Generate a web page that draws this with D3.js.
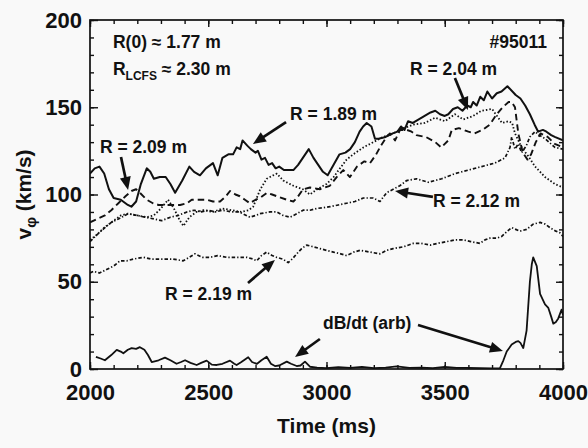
<!DOCTYPE html>
<html><head><meta charset="utf-8">
<script src="https://cdn.jsdelivr.net/npm/d3@7"></script>
<style>
html,body{margin:0;padding:0;background:#f9f9f9;}
svg{display:block;font-family:"Liberation Sans",Arial,Helvetica,sans-serif;font-weight:bold;}
</style></head>
<body><svg id="c" width="588" height="448"></svg>
<script>
// ---- data (time in ms, v_phi in km/s) ----
const xTicks = [2000, 2500, 3000, 3500, 4000];
const yTicks = [0, 50, 100, 150, 200];

const t189 = [2000,2020,2040,2060,2080,2100,2130,2160,2175,2195,2215,2240,2255,2270,2295,2320,2340,2360,2390,2420,2440,2465,2490,2520,2540,2560,2585,2605,2620,2635,2645,2665,2680,2700,2710,2725,2740,2755,2770,2785,2800,2820,2860,2880,2900,2925,2945,2960,2985,3005,3030,3055,3080,3100,3120,3140,3155,3170,3190,3205,3220,3250,3280,3300,3315,3330,3345,3365,3390,3415,3440,3460,3480,3500,3515,3535,3555,3575,3595,3610,3620,3635,3650,3665,3680,3700,3720,3740,3765,3800,3820,3840,3860,3880,3895,3915,3930,3950,3965,4000];
const v189 = [112,115,116,112,103,98,97,94,93,96,106,115,113,109,110,110,106,101,108,116,113,111,115,118,111,121,123,123,127,126,131,128,126,124,125,120,121,117,118,115,116,114,114,117,121,126,121,118,113,111,117,123,124,126,130,136,139,141,139,132,132,133,135,136,139,137,142,141,143,145,147,148,146,145,146,149,150,148,151,150,153,151,156,154,159,155,158,159,162,157,155,151,146,140,136,137,136,134,133,131];

const t204 = [2000,2030,2060,2100,2130,2160,2200,2240,2270,2300,2330,2355,2380,2395,2420,2450,2480,2520,2560,2600,2640,2670,2690,2720,2747,2775,2790,2817,2860,2900,2930,2960,3000,3030,3057,3085,3113,3156,3198,3240,3282,3325,3367,3416,3459,3501,3543,3578,3620,3655,3700,3721,3742,3770,3785,3797,3825,3853,3882,3924,3966,4000];
const v204 = [74,77,81,85,88,89,88,87,88,92,97,92,85,82,87,90,91,90,92,91,90,91,93,103,109,111,112,108,105,103,100,103,106,110,115,120,123,127,130,133,135,138,140,141,144,142,146,143,145,148,149,145,141,142,141,135,127,122,116,110,106,104];

const t209 = [2000,2030,2063,2090,2120,2150,2175,2195,2211,2240,2266,2290,2309,2351,2381,2410,2430,2452,2494,2520,2550,2575,2592,2615,2634,2655,2676,2700,2719,2748,2770,2790,2832,2860,2875,2901,2930,2972,3014,3043,3071,3099,3129,3160,3184,3210,3230,3254,3268,3290,3311,3340,3360,3380,3420,3460,3485,3515,3530,3560,3600,3625,3660,3690,3720,3745,3770,3783,3797,3811,3830,3850,3865,3885,3905,3935,3965,4000];
const v209 = [84,86,88,91,95,99,102,103,101,97,95,94,94,94,94,95,97,97,97,96,96,99,102,100,99,97,95,97,98,101,100,99,97,96,98,103,104,103,105,110,114,110,116,119,118,123,128,133,135,131,137,137,136,134,133,130,127,131,137,138,136,135,137,140,146,150,153,153,150,135,124,120,123,130,135,133,129,127];

const t212 = [2000,2030,2063,2090,2120,2162,2200,2232,2270,2303,2340,2373,2410,2440,2470,2500,2530,2560,2600,2630,2676,2700,2719,2761,2790,2817,2846,2875,2901,2930,2959,3015,3050,3085,3120,3156,3198,3226,3254,3282,3310,3339,3381,3430,3487,3543,3600,3656,3712,3755,3776,3783,3797,3811,3825,3845,3860,3882,3900,3924,3966,4000];
const v212 = [73,77,81,84,86,89,88,87,86,85,87,88,90,91,90,91,90,91,90,90,87,88,89,90,90,88,87,89,91,91,92,93,94,95,96,98,98,96,101,103,105,108,109,107,109,112,114,116,118,121,127,133,126,129,124,128,133,136,134,132,127,126];

const t219 = [2000,2014,2040,2070,2100,2127,2155,2183,2225,2260,2296,2352,2394,2420,2444,2475,2507,2540,2578,2620,2663,2690,2705,2725,2747,2770,2789,2815,2838,2855,2874,2895,2916,2945,2972,3000,3029,3060,3085,3115,3142,3185,3226,3255,3282,3325,3367,3400,3438,3470,3508,3545,3578,3610,3649,3670,3691,3720,3741,3765,3783,3800,3818,3846,3874,3903,3925,3945,3970,3987,4000];
const v219 = [55,56,55,57,59,62,62,63,64,63,63,63,62,64,66,64,64,65,64,64,64,63,62,65,67,65,64,63,61,63,66,69,71,70,69,68,67,66,65,67,68,67,66,68,69,70,72,72,71,72,73,74,74,73,72,74,75,75,76,79,81,80,79,80,83,84,83,81,79,78,76];

const tDB = [2025,2045,2063,2090,2113,2130,2141,2160,2176,2195,2211,2230,2245,2261,2290,2317,2340,2366,2385,2402,2425,2451,2470,2493,2515,2536,2560,2592,2610,2620,2640,2669,2685,2705,2725,2747,2765,2782,2800,2832,2850,2874,2890,2909,2930,2960,3000,3050,3100,3150,3200,3250,3297,3350,3400,3450,3500,3550,3600,3650,3700,3733,3748,3762,3783,3800,3811,3820,3832,3846,3860,3868,3874,3880,3889,3903,3924,3938,3950,3959,3970,3980,3994,4000];
const vDB = [7,6,5,8,11,10,9,11,12,11.5,12.5,11,8,4,5,6.5,5,3,4,5,3.5,2.3,3.5,4.8,2.5,2.3,3,4.8,3,2.3,4,6.7,4,2.9,5,7,3,1.7,2,4.2,3,1.7,2,4.2,1.3,0.8,0.5,1,0.6,1.2,0.5,0.8,1.5,0.6,0.8,0.5,1.2,0.6,0.7,0.5,0.4,0.4,5,10,14,15.5,16,15,12,22,50,60,64,62,59,43,37,35,30,26,27,29,34,31];

// annotations in data units
const labels = [
  {text:"R = 1.89 m", t:2846, v:142.7},
  {text:"R = 2.09 m", t:2042, v:123.8},
  {text:"R = 2.04 m", t:3353, v:168.5},
  {text:"R = 2.12 m", t:3450, v:92.8},
  {text:"R = 2.19 m", t:2317, v:39.5},
  {text:"dB/dt (arb)", t:2985, v:22.9}
];
const arrows = [
  {t0:2829, v0:141.5, t1:2689, v1:128.9},
  {t0:2131, v0:121.5, t1:2161, v1:102.6},
  {t0:3543, v0:166.8, t1:3598, v1:148.4},
  {t0:3450, v0:98.6,  t1:3290, v1:102.0},
  {t0:2668, v0:49.3,  t1:2782, v1:62.5},
  {t0:2972, v0:17.2,  t1:2867, v1:6.9},
  {t0:3387, v0:25.2,  t1:3746, v1:10.3}
];

// ---- drawing ----
const svg = d3.select("#c");
const x = d3.scaleLinear().domain([2000,4000]).range([90,563]);
const y = d3.scaleLinear().domain([0,200]).range([369,20]);

svg.append("rect").attr("width",588).attr("height",448).attr("fill","#f9f9f9");

svg.append("clipPath").attr("id","clip").append("rect")
  .attr("x",x(2000)).attr("y",y(200)).attr("width",x(4000)-x(2000)).attr("height",y(0)-y(200));

const line = d3.line().x(d=>x(d[0])).y(d=>y(d[1])).curve(d3.curveLinear);
const series = [
  {t:t219, v:v219, dash:"3.5,2,1.3,2", w:1.7},
  {t:t212, v:v212, dash:"3.5,2,1.3,2", w:1.7},
  {t:t209, v:v209, dash:"6.5,4", w:1.9},
  {t:t204, v:v204, dash:"1.5,2", w:1.8},
  {t:t189, v:v189, dash:null, w:2},
  {t:tDB,  v:vDB,  dash:null, w:1.8}
];
const g = svg.append("g").attr("clip-path","url(#clip)");
series.forEach(s=>{
  g.append("path").attr("d", line(s.t.map((tt,i)=>[tt, s.v[i]])))
    .attr("fill","none").attr("stroke","#111").attr("stroke-width",s.w)
    .attr("stroke-linejoin","round")
    .attr("stroke-dasharray", s.dash);
});

// axes
function style(sel){ sel.select(".domain").remove(); sel.selectAll("line").attr("stroke","#111").attr("stroke-width",1.4); }
const minorX = d3.range(2000,4001,100), minorY = d3.range(0,201,10);
svg.append("g").attr("transform",`translate(0,${y(0)})`)
  .call(d3.axisBottom(x).tickValues(minorX).tickSize(-4).tickFormat("")).call(style);
svg.append("g").attr("transform",`translate(0,${y(0)})`)
  .call(d3.axisBottom(x).tickValues(xTicks).tickSize(-7).tickPadding(15).tickFormat(d3.format("d"))).call(style)
  .selectAll("text").attr("font-size",22).attr("font-family","Liberation Sans, Arial, sans-serif").attr("font-weight","bold").attr("fill","#111");
svg.append("g").attr("transform",`translate(0,${y(200)})`)
  .call(d3.axisTop(x).tickValues(minorX).tickSize(-4).tickFormat("")).call(style);
svg.append("g").attr("transform",`translate(0,${y(200)})`)
  .call(d3.axisTop(x).tickValues(xTicks).tickSize(-7).tickFormat("")).call(style);

svg.append("g").attr("transform",`translate(${x(2000)},0)`)
  .call(d3.axisLeft(y).tickValues(minorY).tickSize(-4).tickFormat("")).call(style);
svg.append("g").attr("transform",`translate(${x(2000)},0)`)
  .call(d3.axisLeft(y).tickValues(yTicks).tickSize(-8).tickPadding(8).tickFormat(d3.format("d"))).call(style)
  .selectAll("text").attr("font-size",22).attr("font-family","Liberation Sans, Arial, sans-serif").attr("font-weight","bold").attr("fill","#111");
svg.append("g").attr("transform",`translate(${x(4000)},0)`)
  .call(d3.axisRight(y).tickValues(minorY).tickSize(-4).tickFormat("")).call(style);
svg.append("g").attr("transform",`translate(${x(4000)},0)`)
  .call(d3.axisRight(y).tickValues(yTicks).tickSize(-7).tickFormat("")).call(style);

svg.append("rect").attr("x",x(2000)).attr("y",y(200)).attr("width",x(4000)-x(2000)).attr("height",y(0)-y(200))
  .attr("fill","none").attr("stroke","#111").attr("stroke-width",1.7);

// axis titles
svg.append("text").attr("x",(x(2000)+x(4000))/2).attr("y",433).attr("text-anchor","middle")
  .attr("font-size",21).attr("fill","#111").text("Time (ms)");
const yt = svg.append("text").attr("transform",`translate(31,${(y(0)+y(200))/2}) rotate(-90)`)
  .attr("text-anchor","middle").attr("font-size",21).attr("fill","#111");
yt.append("tspan").text("v");
yt.append("tspan").attr("dy",5).attr("font-size",15).text("\u03C6");
yt.append("tspan").attr("dy",-5).text(" (km/s)");

// header texts
const fs = 17.5;
svg.append("text").attr("x",x(2097)).attr("y",y(184)).attr("font-size",fs).attr("fill","#111").text("R(0) \u2248 1.77 m");
const rl = svg.append("text").attr("x",x(2097)).attr("y",y(168.5)).attr("font-size",fs).attr("fill","#111");
rl.append("tspan").text("R");
rl.append("tspan").attr("dy",5).attr("font-size",12).text("LCFS");
rl.append("tspan").attr("dy",-5).text(" \u2248 2.30 m");
svg.append("text").attr("x",x(3932)).attr("y",y(184)).attr("text-anchor","end").attr("font-size",fs).attr("fill","#111").text("#95011");

labels.forEach(l=>{
  svg.append("text").attr("x",x(l.t)).attr("y",y(l.v)).attr("font-size",fs).attr("fill","#111").text(l.text);
});

// arrows
const headL = 13, headW = 5.5;
arrows.forEach(a=>{
  const x0=x(a.t0), y0=y(a.v0), x1=x(a.t1), y1=y(a.v1);
  const dx=x1-x0, dy=y1-y0, L=Math.hypot(dx,dy), ux=dx/L, uy=dy/L;
  const bx=x1-ux*headL, by=y1-uy*headL;
  svg.append("line").attr("x1",x0).attr("y1",y0).attr("x2",bx+ux*2).attr("y2",by+uy*2)
    .attr("stroke","#111").attr("stroke-width",2.7);
  svg.append("path").attr("d",`M${x1},${y1}L${bx-uy*headW},${by+ux*headW}L${bx+uy*headW},${by-ux*headW}Z`)
    .attr("fill","#111");
});
</script></body></html>
